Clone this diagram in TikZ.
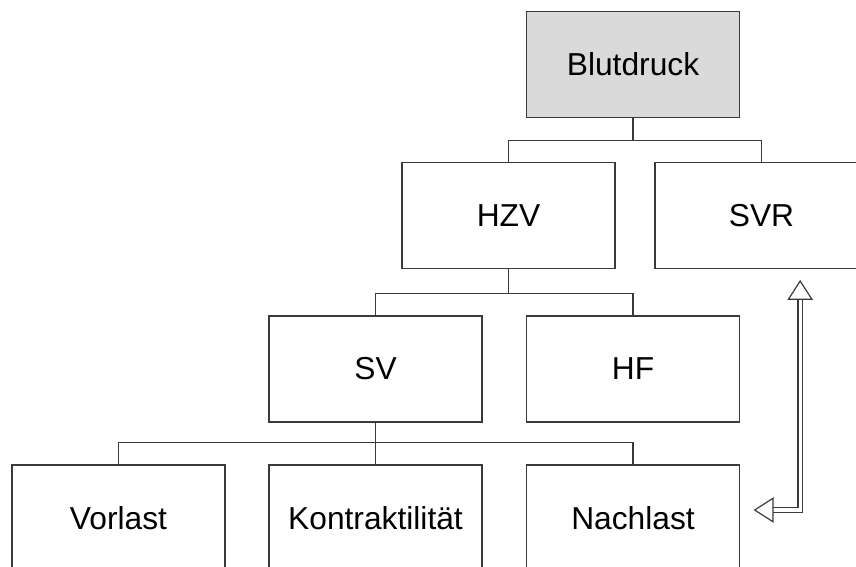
\documentclass[tikz,border=0pt]{standalone}
\usepackage{fontspec}
\setmainfont{Liberation Sans}
\usetikzlibrary{arrows.meta}

\definecolor{linegray}{RGB}{58,58,58}
\definecolor{boxgray}{RGB}{218,218,218}

\tikzset{every picture/.style={line width=1.05pt}}
\tikzset{
  box/.style={draw=linegray, fill=white, minimum width=159.75pt, minimum height=79.5pt, inner sep=0pt, font=\fontsize{23.8}{28}\selectfont},
  rootbox/.style={box, fill=boxgray},
  branch/.style={draw=linegray},
  feedback/.style={draw=linegray, line width=0.9pt, double=white, double distance=2.4pt, {Triangle[open, length=15pt, width=19pt]}-{Triangle[open, length=15pt, width=19pt]}}
}

\begin{document}
\begin{tikzpicture}[x=0.75pt,y=0.75pt,yscale=-1,xscale=1]
\useasboundingbox (0,0) rectangle (856,567);
\clip (0,0) rectangle (856,567);

%Shape: Rectangle [id:blutdruck]
\node[rootbox] (blut) at (633,64.5) {Blutdruck};
%Shape: Rectangle [id:hzv]
\node[box] (hzv) at (508.5,215.5) {HZV};
%Shape: Rectangle [id:svr]
\node[box] (svr) at (761.5,215.5) {SVR};
%Shape: Rectangle [id:sv]
\node[box] (sv) at (375.5,369) {SV};
%Shape: Rectangle [id:hf]
\node[box] (hf) at (633,369) {HF};
%Shape: Rectangle [id:vorlast]
\node[box] (vorlast) at (118.5,518) {Vorlast};
%Shape: Rectangle [id:kontraktilitaet]
\node[box] (kontra) at (375.5,518) {Kontraktilität};
%Shape: Rectangle [id:nachlast]
\node[box] (nachlast) at (633,518) {Nachlast};

%Straight Lines [id:blut-hzv-svr]
\draw[branch] (blut.south) -- ++(0,22) -| (hzv.north);
\draw[branch] (blut.south) -- ++(0,22) -| (svr.north);
%Straight Lines [id:hzv-sv-hf]
\draw[branch] (hzv.south) -- ++(0,24) -| (sv.north);
\draw[branch] (hzv.south) -- ++(0,24) -| (hf.north);
%Straight Lines [id:sv-bottom]
\draw[branch] (sv.south) -- ++(0,20) -| (vorlast.north);
\draw[branch] (sv.south) -- ++(0,20) -| (kontra.north);
\draw[branch] (sv.south) -- ++(0,20) -| (nachlast.north);

%Double Arrow [id:svr-nachlast]
\draw[feedback, shorten <=8pt, shorten >=10pt] ([xshift=29pt]svr.south) |- ([yshift=-6pt]nachlast.east);

\end{tikzpicture}
\end{document}
